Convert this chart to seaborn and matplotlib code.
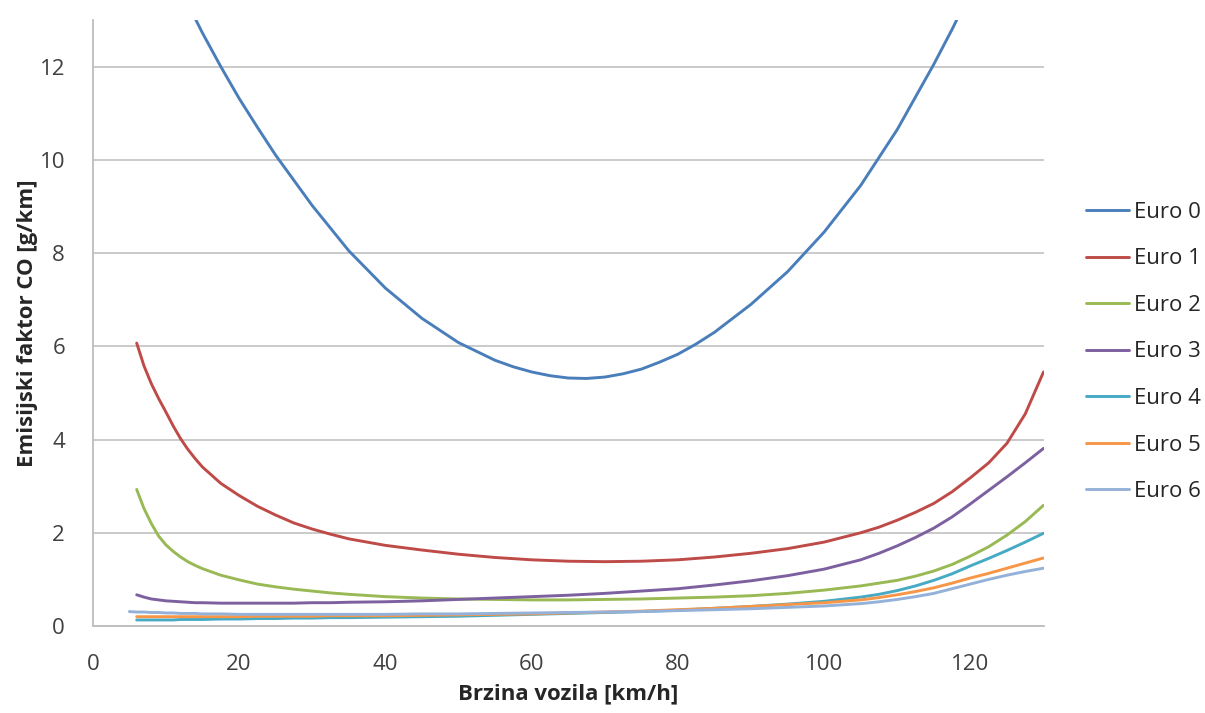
import numpy as np
import pandas as pd
import matplotlib
matplotlib.use("Agg")
import matplotlib.pyplot as plt
import seaborn as sns

# speeds [km/h] and CO emission factors [g/km]
euro0_speed = [12.5, 15, 17.5, 20, 22.5, 25, 30, 35, 40, 45, 50, 55, 57.5, 60,
               62.5, 65, 67.5, 70, 72.5, 75, 77.5, 80, 82.5, 85, 90, 95, 100,
               105, 110, 115, 117.5, 120]
euro0_co = [13.5, 12.72, 12.0, 11.32, 10.7, 10.1, 9.02, 8.05, 7.25, 6.6, 6.08,
            5.7, 5.56, 5.45, 5.37, 5.32, 5.31, 5.34, 5.41, 5.51, 5.66, 5.83,
            6.05, 6.3, 6.9, 7.6, 8.45, 9.45, 10.65, 12.05, 12.8, 13.6]

speed = [6, 7, 8, 9, 10, 11, 12, 13, 14, 15, 17.5, 20, 22.5, 25, 27.5, 30,
         32.5, 35, 40, 45, 50, 55, 60, 65, 70, 75, 80, 85, 90, 95, 100, 105,
         107.5, 110, 112.5, 115, 117.5, 120, 122.5, 125, 127.5, 130]
euro1_co = [6.07, 5.58, 5.2, 4.88, 4.59, 4.29, 4.02, 3.79, 3.59, 3.41, 3.06,
            2.8, 2.57, 2.38, 2.21, 2.08, 1.97, 1.87, 1.73, 1.63, 1.54, 1.47,
            1.42, 1.39, 1.38, 1.39, 1.42, 1.48, 1.56, 1.66, 1.8, 2.0, 2.12,
            2.27, 2.44, 2.63, 2.88, 3.18, 3.5, 3.92, 4.55, 5.45]
euro2_co = [2.93, 2.52, 2.2, 1.93, 1.74, 1.6, 1.48, 1.38, 1.3, 1.23, 1.09,
            0.99, 0.9, 0.84, 0.79, 0.75, 0.71, 0.68, 0.63, 0.6, 0.58, 0.57,
            0.56, 0.56, 0.57, 0.58, 0.6, 0.62, 0.65, 0.7, 0.77, 0.86, 0.92,
            0.98, 1.07, 1.18, 1.32, 1.5, 1.7, 1.95, 2.24, 2.59]
euro3_co = [0.67, 0.62, 0.58, 0.56, 0.54, 0.53, 0.52, 0.51, 0.5, 0.5, 0.49,
            0.49, 0.49, 0.49, 0.49, 0.5, 0.5, 0.51, 0.52, 0.54, 0.57, 0.6,
            0.63, 0.66, 0.7, 0.75, 0.8, 0.88, 0.97, 1.08, 1.22, 1.42, 1.56,
            1.72, 1.9, 2.1, 2.34, 2.62, 2.91, 3.2, 3.5, 3.81]
euro4_co = [0.13, 0.13, 0.13, 0.13, 0.13, 0.13, 0.14, 0.14, 0.14, 0.14, 0.15,
            0.15, 0.16, 0.16, 0.17, 0.17, 0.18, 0.18, 0.19, 0.2, 0.21, 0.23,
            0.25, 0.27, 0.29, 0.31, 0.34, 0.38, 0.42, 0.47, 0.53, 0.62, 0.68,
            0.76, 0.86, 0.98, 1.12, 1.29, 1.45, 1.62, 1.8, 1.99]
euro5_co = [0.2, 0.2, 0.2, 0.2, 0.2, 0.2, 0.2, 0.2, 0.2, 0.2, 0.2, 0.2, 0.21,
            0.21, 0.21, 0.21, 0.22, 0.22, 0.22, 0.23, 0.24, 0.25, 0.26, 0.28,
            0.3, 0.32, 0.35, 0.38, 0.42, 0.46, 0.5, 0.56, 0.61, 0.67, 0.74,
            0.82, 0.92, 1.03, 1.13, 1.24, 1.35, 1.46]
euro6_speed = [5] + speed
euro6_co = [0.31, 0.3, 0.3, 0.29, 0.29, 0.28, 0.28, 0.27, 0.27, 0.27, 0.26,
            0.26, 0.25, 0.25, 0.25, 0.25, 0.25, 0.25, 0.25, 0.25, 0.26, 0.26,
            0.27, 0.28, 0.29, 0.3, 0.31, 0.33, 0.35, 0.37, 0.4, 0.43, 0.48,
            0.52, 0.57, 0.63, 0.7, 0.8, 0.9, 1.0, 1.09, 1.17, 1.24]

labels = ["Euro 0", "Euro 1", "Euro 2", "Euro 3", "Euro 4", "Euro 5", "Euro 6"]
colors = ["#4A7EBB", "#BE4B48", "#98B954", "#7D60A0", "#46AAC5", "#F79646", "#94B1D9"]

series = [(euro0_speed, euro0_co), (speed, euro1_co), (speed, euro2_co),
          (speed, euro3_co), (speed, euro4_co), (speed, euro5_co),
          (euro6_speed, euro6_co)]
df = pd.concat([pd.DataFrame({"speed": s, "co": c, "norm": lab})
                for (s, c), lab in zip(series, labels)], ignore_index=True)

sns.set_style("white")
plt.rcParams["font.family"] = ["Open Sans", "DejaVu Sans"]

fig = plt.figure(figsize=(12.05, 7.13), dpi=100)
ax = fig.add_axes([0.077, 0.122, 0.789, 0.85])

sns.lineplot(data=df, x="speed", y="co", hue="norm", hue_order=labels,
             palette=colors, estimator=None, sort=False, linewidth=2.1, ax=ax)

ax.set_xlim(0, 130)
ax.set_ylim(0, 13)
ax.set_xticks(range(0, 121, 20))
ax.set_yticks(range(0, 13, 2))
ax.yaxis.grid(True, color="#C6C6C6", linewidth=1.3)
ax.set_axisbelow(True)
for side in ["top", "right"]:
    ax.spines[side].set_visible(False)
for side in ["left", "bottom"]:
    ax.spines[side].set_color("#BDBDBD")
    ax.spines[side].set_linewidth(1.3)
ax.tick_params(length=0, labelsize=16, labelcolor="#404040")
ax.tick_params(axis="x", pad=20)
ax.tick_params(axis="y", pad=20)

ax.set_xlabel("Brzina vozila [km/h]", fontsize=16, fontweight="bold", labelpad=6)
ax.set_ylabel("Emisijski faktor CO [g/km]", fontsize=16, fontweight="bold", labelpad=1)

handles, _ = ax.get_legend_handles_labels()
ax.get_legend().remove()
fig.legend(handles, labels, loc="upper left", bbox_to_anchor=(0.885, 0.745),
           frameon=False, fontsize=16, handlelength=1.9, handletextpad=0.22,
           labelspacing=1.15, labelcolor="#262626")

fig.savefig("out.png", dpi=100)
